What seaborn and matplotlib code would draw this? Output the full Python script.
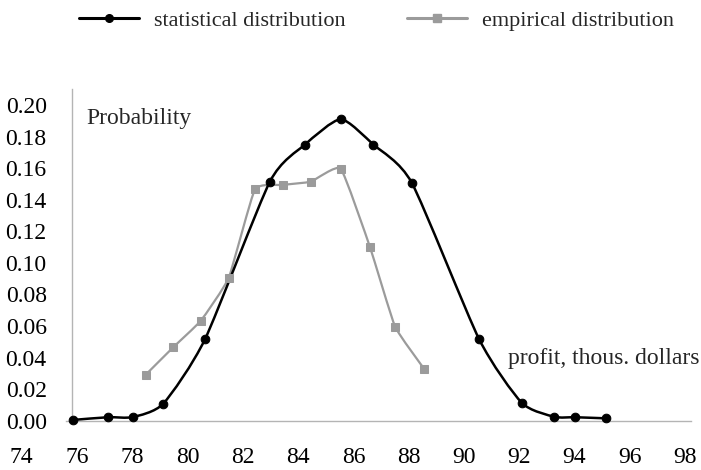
import numpy as np
import pandas as pd
import matplotlib
matplotlib.use("Agg")
import matplotlib.pyplot as plt
from matplotlib.path import Path
from matplotlib.patches import PathPatch
from matplotlib.lines import Line2D
import seaborn as sns

# ---- data ----
stat_x = [75.87, 77.13, 78.02, 79.12, 80.63, 82.98, 84.25, 85.54, 86.72, 88.11, 90.55, 92.09, 93.27, 94.02, 95.14]
stat_y = [0.0005, 0.0022, 0.0023, 0.0108, 0.0516, 0.1515, 0.1750, 0.1910, 0.1750, 0.1508, 0.0516, 0.0114, 0.0025, 0.0022, 0.0015]
emp_x = [78.49, 79.48, 80.48, 81.49, 82.44, 83.44, 84.46, 85.54, 86.60, 87.51, 88.57]
emp_y = [0.0292, 0.0465, 0.0634, 0.0906, 0.1466, 0.1494, 0.1515, 0.1597, 0.1100, 0.0596, 0.0326]
x_ticks = [74, 76, 78, 80, 82, 84, 86, 88, 90, 92, 94, 96, 98]
y_ticks = [0.00, 0.02, 0.04, 0.06, 0.08, 0.10, 0.12, 0.14, 0.16, 0.18, 0.20]
label_stat = "statistical distribution"
label_emp = "empirical distribution"

sns.set_style("white")
plt.rcParams['font.family'] = ['Liberation Serif', 'DejaVu Serif']

BLACK = "#000000"
GRAY = "#9b9b9b"
AXIS = "#b4b4b4"
FS = 17

fig = plt.figure(figsize=(7.01, 4.70), dpi=100)
ax = fig.add_axes([0.01124, 0.0881, 0.98579, 0.7219])


def smooth_path(xs, ys, tension):
    """Smoothed line: cubic Bezier segments through the data points."""
    pts = np.column_stack([np.asarray(xs, float), np.asarray(ys, float)])
    n = len(pts)
    verts = [pts[0]]
    codes = [Path.MOVETO]
    for i in range(n - 1):
        p0 = pts[i - 1] if i > 0 else pts[i]
        p1 = pts[i]
        p2 = pts[i + 1]
        p3 = pts[i + 2] if i + 2 < n else pts[i + 1]
        c1 = p1 + (p2 - p0) * tension
        c2 = p2 - (p3 - p1) * tension
        verts += [c1, c2, p2]
        codes += [Path.CURVE4] * 3
    return Path(verts, codes)


df_stat = pd.DataFrame({"x": stat_x, "y": stat_y})
df_emp = pd.DataFrame({"x": emp_x, "y": emp_y})

# smoothed lines
ax.add_patch(PathPatch(smooth_path(emp_x, emp_y, 0.07), fill=False, edgecolor=GRAY, lw=1.6,
                       transform=ax.transData, zorder=3, clip_on=False))
ax.add_patch(PathPatch(smooth_path(stat_x, stat_y, 0.11), fill=False, edgecolor=BLACK, lw=1.8,
                       transform=ax.transData, zorder=4, clip_on=False))

# markers
sns.lineplot(data=df_emp, x="x", y="y", ax=ax, sort=False, estimator=None,
             linestyle="", marker="s", markersize=5.2, color=GRAY,
             markeredgecolor=GRAY, zorder=5, clip_on=False)
sns.lineplot(data=df_stat, x="x", y="y", ax=ax, sort=False, estimator=None,
             linestyle="", marker="o", markersize=6.2, color=BLACK,
             markeredgecolor=BLACK, zorder=6, clip_on=False)

ax.set_xlim(73.5, 98.5)
ax.set_ylim(-0.005, 0.21)
ax.set_xticks(x_ticks)
ax.set_xticklabels([str(v) for v in x_ticks])
ax.set_yticks(y_ticks)
ax.set_yticklabels([f"{v:.2f}" for v in y_ticks])
ax.set_xlabel("")
ax.set_ylabel("")

for s in ["top", "right"]:
    ax.spines[s].set_visible(False)
ax.spines["left"].set_position(("data", 75.81))
ax.spines["left"].set_bounds(0, 0.21)
ax.spines["bottom"].set_position(("data", 0))
ax.spines["bottom"].set_bounds(75.6, 98.2)
for s in ["left", "bottom"]:
    ax.spines[s].set_color(AXIS)
    ax.spines[s].set_linewidth(1.0)

ax.tick_params(axis="both", length=0, labelsize=FS, colors="#000000")
ax.tick_params(axis="y", pad=18)
ax.tick_params(axis="x", pad=19)

ax.text(76.33, 0.1912, "Probability", fontsize=FS, ha="left", va="center")
ax.text(91.59, 0.0391, "profit, thous. dollars", fontsize=FS, ha="left", va="center")

handles = [
    Line2D([], [], color=BLACK, lw=2.2, marker="o", markersize=5.5),
    Line2D([], [], color=GRAY, lw=2.2, marker="s", markersize=5.5),
]
fig.legend(handles, [label_stat, label_emp], loc="center", ncol=2, frameon=False,
           bbox_to_anchor=(376.5 / 701, 1 - 21 / 470), fontsize=16,
           handlelength=2.7, handletextpad=0.68, columnspacing=2.75,
           borderpad=0, borderaxespad=0)

fig.savefig("out.png", dpi=100)
